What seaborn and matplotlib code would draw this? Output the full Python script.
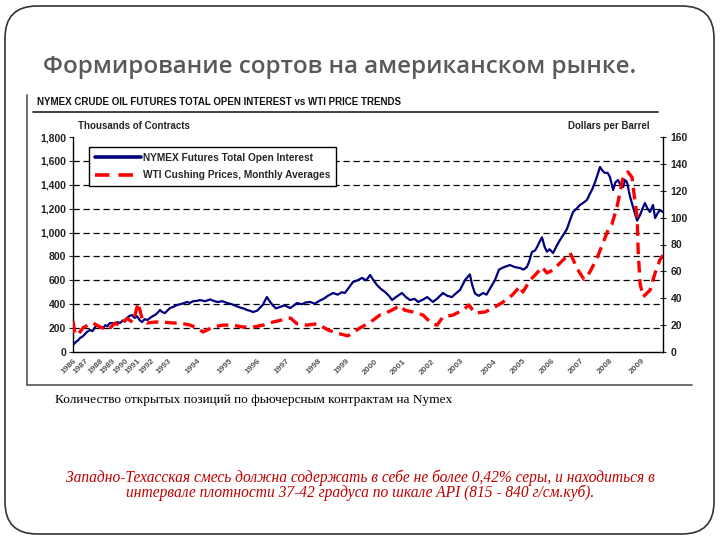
import numpy as np
import pandas as pd
import matplotlib
matplotlib.use("Agg")
import matplotlib.pyplot as plt
import seaborn as sns
from matplotlib.lines import Line2D
from matplotlib.patches import FancyBboxPatch

# ---------------- ДАННЫЕ ----------------
# NYMEX open interest, thousands of contracts (left axis)
OI_YEARS = [1986.00, 1986.25, 1986.45, 1986.58, 1986.80, 1987.00, 1987.15, 1987.33, 1987.50, 1987.65,
            1987.80, 1988.00, 1988.25, 1988.45, 1988.60, 1988.80, 1989.00, 1989.20, 1989.40, 1989.62,
            1989.85, 1990.00, 1990.17, 1990.35, 1990.58, 1990.70, 1990.83, 1991.00, 1991.20, 1991.36,
            1991.55, 1991.75, 1991.93, 1992.10, 1992.24, 1992.40, 1992.53, 1992.65, 1992.82, 1992.95,
            1993.07, 1993.20, 1993.31, 1993.50, 1993.66, 1993.75, 1993.86, 1994.00, 1994.09, 1994.25,
            1994.41, 1994.52, 1994.63, 1994.80, 1994.94, 1995.10, 1995.25, 1995.40, 1995.55, 1995.64,
            1995.75, 1995.86, 1996.00, 1996.10, 1996.20, 1996.34, 1996.45, 1996.55, 1996.65, 1996.79,
            1996.95, 1997.13, 1997.25, 1997.34, 1997.50, 1997.62, 1997.75, 1997.90, 1998.06, 1998.20,
            1998.35, 1998.54, 1998.70, 1998.85, 1998.96, 1999.10, 1999.24, 1999.40, 1999.55, 1999.70,
            1999.83, 1999.95, 2000.07, 2000.20, 2000.36, 2000.50, 2000.61, 2000.75, 2000.96, 2001.10,
            2001.24, 2001.40, 2001.52, 2001.70, 2001.83, 2001.93, 2002.03, 2002.20, 2002.39, 2002.55,
            2002.71, 2002.85, 2003.00, 2003.15, 2003.29, 2003.36, 2003.44, 2003.55, 2003.68, 2003.78,
            2003.88, 2004.03, 2004.18, 2004.35, 2004.57, 2004.75, 2004.93, 2005.05, 2005.17, 2005.25,
            2005.34, 2005.45, 2005.52, 2005.60, 2005.69, 2005.78, 2005.86, 2005.95, 2006.07, 2006.20,
            2006.31, 2006.45, 2006.55, 2006.65, 2006.76, 2006.88, 2007.00, 2007.12, 2007.24, 2007.33,
            2007.41, 2007.52, 2007.60, 2007.69, 2007.77, 2007.86, 2007.95, 2008.03, 2008.13, 2008.20,
            2008.28, 2008.36, 2008.44, 2008.50, 2008.56, 2008.66, 2008.75, 2008.82, 2008.88, 2008.97,
            2009.05, 2009.13, 2009.22, 2009.30, 2009.40, 2009.47, 2009.55, 2009.63, 2009.73]
OI_VALUES = [59, 85, 100, 117, 130, 150, 170, 184, 175, 205,
             226, 210, 201, 225, 215, 240, 243, 230, 250, 243,
             265, 255, 285, 300, 310, 295, 285, 300, 265, 251,
             275, 268, 285, 300, 310, 330, 352, 335, 326, 345,
             368, 380, 393, 405, 419, 410, 425, 428, 435, 425,
             440, 428, 419, 425, 410, 400, 385, 372, 362, 352,
             345, 335, 345, 370, 395, 460, 420, 390, 365, 377,
             390, 368, 390, 410, 400, 415, 419, 405, 430, 445,
             470, 494, 480, 500, 494, 540, 586, 600, 620, 600,
             645, 600, 561, 530, 502, 470, 435, 460, 494, 460,
             435, 445, 419, 440, 460, 440, 419, 450, 494, 470,
             460, 490, 519, 603, 650, 560, 490, 470, 494, 480,
             530, 600, 690, 710, 728, 710, 703, 690, 712, 760,
             837, 850, 879, 920, 960, 880, 840, 860, 829, 890,
             938, 990, 1030, 1100, 1172, 1200, 1231, 1250, 1273, 1320,
             1356, 1423, 1480, 1549, 1520, 1499, 1500, 1465, 1356, 1420,
             1440, 1400, 1381, 1440, 1423, 1298, 1214, 1150, 1100, 1147,
             1200, 1247, 1200, 1172, 1231, 1122, 1160, 1189, 1172]

# WTI Cushing, monthly averages, $/bbl (right axis)
WTI_YEARS = [1986.00, 1986.17, 1986.42, 1986.83, 1987.20, 1987.53, 1988.00, 1988.67, 1989.25, 1989.62,
             1990.17, 1990.67, 1991.08, 1991.36, 1991.71, 1992.24, 1992.65, 1993.17, 1993.41, 1993.76,
             1994.00, 1994.19, 1994.50, 1994.81, 1995.13, 1995.50, 1995.86, 1996.21, 1996.55, 1996.90,
             1997.14, 1997.34, 1997.66, 1997.97, 1998.36, 1998.68, 1999.07, 1999.48, 1999.83, 2000.17,
             2000.54, 2000.89, 2001.07, 2001.41, 2001.69, 2002.00, 2002.18, 2002.39, 2002.75, 2003.09,
             2003.26, 2003.44, 2003.74, 2003.97, 2004.31, 2004.66, 2004.93, 2005.03, 2005.28, 2005.52,
             2005.69, 2005.86, 2006.07, 2006.31, 2006.66, 2006.90, 2007.14, 2007.34, 2007.59, 2007.79,
             2007.97, 2008.09, 2008.25, 2008.44, 2008.59, 2008.72, 2008.78, 2008.88, 2008.91, 2008.97,
             2009.07, 2009.30, 2009.47, 2009.63, 2009.73]
WTI_PRICES = [23, 13, 13, 18, 20, 21.6, 18.6, 16.4, 21.6, 19.5,
              25, 22, 36.5, 25, 21.6, 22.3, 22.3, 21.6, 21.6, 20,
              17.9, 14.9, 18.6, 20, 20, 18.6, 18.6, 20, 22.3, 24,
              25.3, 21, 20, 21, 16.4, 14, 12, 17.9, 22, 27.5,
              30.5, 34.5, 31, 29.5, 27.5, 21, 20, 26, 27.5, 31.3,
              35, 29, 29.8, 32.7, 37, 42.5, 49, 44.6, 53.6, 58.8,
              63.3, 58.8, 61, 66.2, 73.7, 62, 54, 59.5, 70, 81,
              90.8, 95, 108, 130, 134, 130, 118, 100, 76, 51,
              41, 46, 58.8, 68.5, 72]

YEAR_TICKS = list(range(1986, 2010))
LEFT_TICKS = list(range(0, 2000, 200))
RIGHT_TICKS = list(range(0, 180, 20))

# раскладка: неравномерная шкала времени исходного графика (позиция января каждого года, px)
AXIS_YEARS = [1980] + list(range(1986, 2011)) + [2020]
AXIS_POS = [1, 73, 85, 100, 112, 125, 137, 151, 168, 197, 229, 257, 286, 318, 346,
            375, 403, 432, 460, 494, 522, 551, 580, 609, 641, 671, 971]


def fwd(x):
    return np.interp(x, AXIS_YEARS, AXIS_POS)


def inv(p):
    return np.interp(p, AXIS_POS, AXIS_YEARS)


NAVY = "#000080"
RED = "#ff0000"

sns.set_style("white")
plt.rcParams["font.family"] = ["Liberation Sans", "DejaVu Sans"]

fig = plt.figure(figsize=(7.2, 5.4), dpi=100)

# рамка слайда
border = FancyBboxPatch((0.05, 0.06), 7.09, 5.28, boxstyle="round,pad=0,rounding_size=0.32",
                        transform=fig.dpi_scale_trans, fill=False, ec="#333333", lw=1.2)
fig.add_artist(border)

fig.text(43 / 720, 1 - 67 / 540, "Формирование сортов на американском рынке.",
         family="Open Sans", weight="semibold", fontsize=17.4, color="#595959", va="center")

# рамка-тень картинки
fig.add_artist(Line2D([27 / 720, 27 / 720], [1 - 95 / 540, 1 - 385 / 540], color="#555555", lw=1.2))
fig.add_artist(Line2D([27 / 720, 692 / 720], [1 - 385 / 540, 1 - 385 / 540], color="#555555", lw=1.2))

fig.text(37 / 720, 1 - 102 / 540, "NYMEX CRUDE OIL FUTURES TOTAL OPEN INTEREST vs WTI PRICE TRENDS",
         fontsize=7, weight="bold", va="center", color="#111111")
fig.add_artist(Line2D([33 / 720, 658 / 720], [1 - 112 / 540, 1 - 112 / 540], color="#333333", lw=1.3))
fig.text(78 / 720, 1 - 126 / 540, "Thousands of Contracts", fontsize=7, weight="bold", va="center")
fig.text(650 / 720, 1 - 126 / 540, "Dollars per Barrel", fontsize=7, weight="bold", va="center", ha="right")

ax = fig.add_axes([73 / 720, 188 / 540, 590 / 720, 215 / 540])
ax.set_xscale("function", functions=(fwd, inv))

oi = pd.DataFrame({"year": OI_YEARS, "oi": OI_VALUES})
wti = pd.DataFrame({"year": WTI_YEARS, "price": WTI_PRICES})

sns.lineplot(data=oi, x="year", y="oi", ax=ax, color=NAVY, lw=1.6)
ax.set_ylim(0, 1800)
ax.set_xlim(1986, float(inv(663)))
ax.set_yticks(LEFT_TICKS)
ax.set_yticklabels([f"{v:,}" for v in LEFT_TICKS], fontsize=7.5, weight="bold", color="#222222")
ax.set_xticks(YEAR_TICKS)
ax.set_xticklabels([str(y) for y in YEAR_TICKS], rotation=45, ha="right", rotation_mode="anchor",
                   fontsize=6, weight="bold", color="#555555")
ax.set_xticks([y + q for y in range(1986, 2010) for q in (0.25, 0.5, 0.75)], minor=True)
ax.tick_params(axis="x", which="both", direction="in", length=3, width=0.6, color="#777777", pad=4)
ax.tick_params(axis="y", direction="out", length=3, width=0.8, pad=2, left=True)
ax.set_xlabel("")
ax.set_ylabel("")
ax.yaxis.grid(True, color="black", lw=0.9, ls=(0, (5, 3)))
ax.get_ygridlines()[0].set_visible(False)
ax.get_ygridlines()[-1].set_visible(False)
for side in ["left", "bottom"]:
    ax.spines[side].set_color("black")
    ax.spines[side].set_linewidth(1)
ax.spines["top"].set_visible(False)
ax.spines["right"].set_visible(False)

ax2 = ax.twinx()
sns.lineplot(data=wti, x="year", y="price", ax=ax2, color=RED, lw=2.4)
ax2.lines[0].set_dashes([3.5, 2])
ax2.set_ylim(0, 160)
ax2.set_xlim(1986, float(inv(663)))
ax2.set_yticks(RIGHT_TICKS)
ax2.set_yticklabels([str(v) for v in RIGHT_TICKS], fontsize=7.5, weight="bold", color="#222222")
ax2.tick_params(axis="y", direction="inout", length=5, width=0.8, pad=3, right=True)
ax2.set_ylabel("")
ax2.spines["top"].set_visible(False)
ax2.spines["left"].set_visible(False)
ax2.spines["bottom"].set_visible(False)
ax2.spines["right"].set_color("black")
ax2.spines["right"].set_linewidth(1)
ax2.grid(False)

handles = [Line2D([], [], color=NAVY, lw=2.6),
           Line2D([], [], color=RED, lw=2.6, dashes=[4, 2.5])]
leg = fig.legend(handles, ["NYMEX Futures Total Open Interest", "WTI Cushing Prices, Monthly Averages"],
                 loc="upper left", bbox_to_anchor=(89 / 720, 1 - 147 / 540), borderaxespad=0,
                 frameon=True, fancybox=False, edgecolor="black", framealpha=1,
                 handlelength=4.6, handletextpad=0.15, borderpad=0.55, labelspacing=0.75,
                 prop={"size": 7.3, "weight": "bold"})
leg.get_frame().set_linewidth(1)

fig.text(55 / 720, 1 - 400 / 540, "Количество открытых позиций по фьючерсным контрактам на Nymex",
         family="Liberation Serif", fontsize=9.6, va="center", color="black")
fig.text(360 / 720, 1 - 485.5 / 540,
         "Западно-Техасская смесь должна содержать в себе не более 0,42% серы, и находиться в\n"
         "интервале плотности 37-42 градуса по шкале API (815 - 840 г/см.куб).",
         family="Liberation Serif", style="italic", fontsize=11.2, color="#c00000",
         ha="center", va="center", linespacing=0.85)

fig.savefig("out.png", dpi=100)
